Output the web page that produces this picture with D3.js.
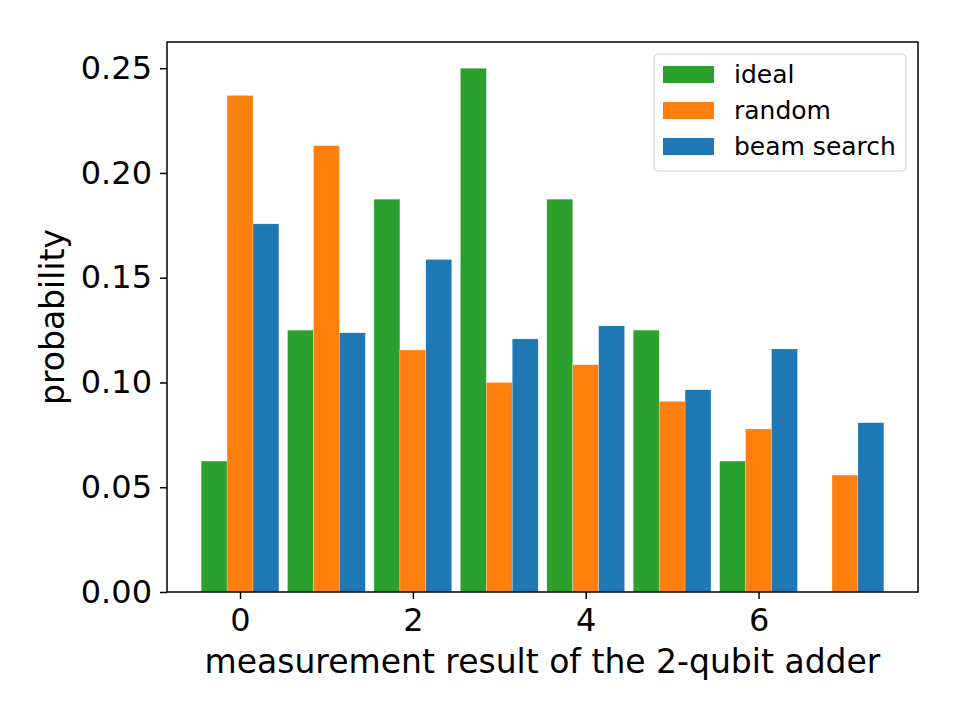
<!DOCTYPE html>
<html lang="en">
<head>
<meta charset="UTF-8">
<script src="https://d3js.org/d3.v7.min.js"></script>
<style>
  body { margin: 0; background: #fff; }
  svg { font-family: "DejaVu Sans", sans-serif; }
</style>
</head>
<body>
<script>
// data
var results = [0, 1, 2, 3, 4, 5, 6, 7];
var ideal = [0.0625, 0.125, 0.1875, 0.25, 0.1875, 0.125, 0.0625, 0];
var random = [0.237, 0.213, 0.1155, 0.100, 0.1085, 0.091, 0.0778, 0.0558];
var beam = [0.1757, 0.1237, 0.1587, 0.1208, 0.127, 0.0965, 0.116, 0.0808];
var seriesNames = ["ideal", "random", "beam search"];
var seriesColors = ["#2ca02c", "#ff7f0e", "#1f77b4"];
var xTicks = [0, 2, 4, 6];
var yTicks = [0, 0.05, 0.10, 0.15, 0.20, 0.25];

var W = 960, H = 720;
var margin = { top: 42, right: 42, bottom: 128, left: 167 };
var width = W - margin.left - margin.right,
    height = H - margin.top - margin.bottom;

var svg = d3.select("body").append("svg")
    .attr("width", W)
    .attr("height", H);

var g = svg.append("g")
    .attr("transform", "translate(" + margin.left + "," + margin.top + ")");

var barW = 0.3;
var x = d3.scaleLinear().domain([-0.845, 7.845]).range([0, width]);
var y = d3.scaleLinear().domain([0, 0.2625]).range([height, 0]);

var series = [ideal, random, beam];
series.forEach(function (vals, si) {
    var off = (si - 1) * barW;
    g.append("g").selectAll("rect")
        .data(vals)
        .enter()
        .append("rect")
        .attr("x", function (d, i) { return x(results[i] + off - barW / 2); })
        .attr("width", x(barW) - x(0))
        .attr("y", function (d) { return y(d); })
        .attr("height", function (d) { return height - y(d); })
        .attr("fill", seriesColors[si])
        .attr("stroke", "#fff")
        .attr("stroke-width", 0.4)
        .attr("stroke-opacity", 0.6);
});

// axes
var xAxis = g.append("g")
    .attr("transform", "translate(0," + height + ")")
    .call(d3.axisBottom(x).tickValues(xTicks).tickFormat(d3.format("d")).tickSize(7).tickPadding(9));
var yAxis = g.append("g")
    .call(d3.axisLeft(y).tickValues(yTicks).tickFormat(d3.format(".2f")).tickSize(7).tickPadding(8));

[xAxis, yAxis].forEach(function (a) {
    a.select(".domain").remove();
    a.selectAll(".tick line").attr("stroke", "#000").attr("stroke-width", 1.5);
    a.selectAll(".tick text").attr("fill", "#000")
        .style("font-size", "32px")
        .style("font-family", "DejaVu Sans");
});

// frame
g.append("rect")
    .attr("width", width)
    .attr("height", height)
    .attr("fill", "none")
    .attr("stroke", "#000")
    .attr("stroke-width", 1.5);

// axis labels
svg.append("text")
    .attr("x", margin.left + width / 2)
    .attr("y", 673)
    .attr("text-anchor", "middle")
    .style("font-size", "33px")
    .text("measurement result of the 2-qubit adder");

svg.append("text")
    .attr("transform", "translate(64," + (margin.top + height / 2) + ") rotate(-90)")
    .attr("text-anchor", "middle")
    .style("font-size", "33px")
    .text("probability");

// legend
var leg = svg.append("g").attr("transform", "translate(654,54)");
leg.append("rect")
    .attr("width", 252)
    .attr("height", 117)
    .attr("rx", 4)
    .attr("fill", "#fff")
    .attr("fill-opacity", 0.8)
    .attr("stroke", "#cccccc")
    .attr("stroke-width", 1);

seriesNames.forEach(function (name, i) {
    var row = leg.append("g").attr("transform", "translate(0," + (i * 36) + ")");
    row.append("rect")
        .attr("x", 9)
        .attr("y", 12)
        .attr("width", 51)
        .attr("height", 17)
        .attr("fill", seriesColors[i]);
    row.append("text")
        .attr("x", 80)
        .attr("y", 29)
        .style("font-size", "25px")
        .text(name);
});
</script>
</body>
</html>
